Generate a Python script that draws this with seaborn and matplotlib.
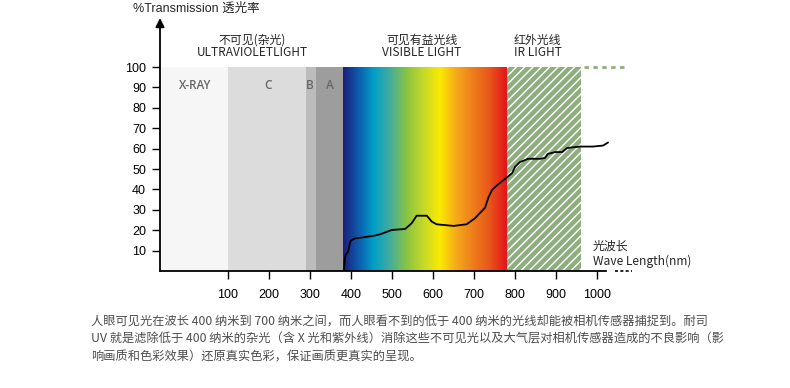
import numpy as np
import matplotlib
matplotlib.use("Agg")
import matplotlib.pyplot as plt
from matplotlib.colors import LinearSegmentedColormap
import seaborn as sns

# ---------------- data ----------------
wavelength = [383, 385, 387, 393, 397, 400, 410, 430, 454, 471, 499, 532, 548, 560,
              585, 597, 609, 650, 682, 702, 722, 727, 735, 744, 756, 778, 793, 800,
              812, 832, 861, 873, 880, 898, 915, 927, 959, 990, 1015, 1027]
transmission = [0.5, 6, 8, 9.5, 13.5, 15, 16, 16.5, 17.2, 18, 20.1, 20.6, 23.4, 27.1,
                27.1, 24.2, 22.9, 22.1, 22.9, 25.8, 30, 31, 36, 39.7, 42, 45.5, 48, 51,
                53.4, 55, 55, 55.4, 57.4, 58.3, 58.3, 60.3, 61, 61, 61.5, 63]

band_names = ["X-RAY", "C", "B", "A"]
band_start = [-66, 100, 290, 315]
band_end = [100, 290, 315, 380]
band_label_x = [20, 197, 300, 348]
band_colors = ["#f6f6f6", "#dcdcdc", "#bcbcbc", "#9d9d9d"]

visible_range = [380, 780]
spectrum_pos = [380, 422, 454, 495, 537, 576, 617, 658, 698, 739, 780]
spectrum_colors = ["#1b1f7e", "#0d63b2", "#009fc8", "#45ad9c", "#8cc43f", "#c6d82a",
                   "#fbe900", "#f5a81c", "#ee7d1b", "#e8561a", "#e3141c"]
ir_range = [780, 960]
ir_color = "#8fae7f"

xticks = [100, 200, 300, 400, 500, 600, 700, 800, 900, 1000]
yticks = [10, 20, 30, 40, 50, 60, 70, 80, 90, 100]

caption = ("人眼可见光在波长 400 纳米到 700 纳米之间，而人眼看不到的低于 400 纳米的光线却能被相机传感器捕捉到。耐司\n"
           "UV 就是滤除低于 400 纳米的杂光（含 X 光和紫外线）消除这些不可见光以及大气层对相机传感器造成的不良影响（影\n"
           "响画质和色彩效果）还原真实色彩，保证画质更真实的呈现。")

# ---------------- style ----------------
sns.set_style("white")
plt.rcParams['font.family'] = ['Liberation Sans', 'Noto Sans CJK SC', 'DejaVu Sans']
plt.rcParams['hatch.linewidth'] = 1.0

W, H = 790, 388
fig = plt.figure(figsize=(W / 100, H / 100), dpi=100)
X0, X1 = -65.9, 1104.9
Y0, Y1 = 0, 125.5
ax = fig.add_axes([160 / W, (H - 271) / H, 480 / W, 256 / H])
ax.set_xlim(X0, X1)
ax.set_ylim(Y0, Y1)
ax.patch.set_alpha(0)

# bands
ax.bar(band_start, [100] * 4, width=np.array(band_end) - np.array(band_start),
       align='edge', color=band_colors, linewidth=0, zorder=1)
for name, xc in zip(band_names, band_label_x):
    ax.text(xc, 91, name, ha='center', va='center', fontsize=8.5, fontweight='semibold',
            color='#666666', family=['Open Sans', 'DejaVu Sans'], zorder=3)

# visible spectrum gradient
cmap = LinearSegmentedColormap.from_list(
    "spec", [((p - spectrum_pos[0]) / (spectrum_pos[-1] - spectrum_pos[0]), c)
             for p, c in zip(spectrum_pos, spectrum_colors)])
grad = np.linspace(0, 1, 512)[None, :]
ax.imshow(grad, cmap=cmap, aspect='auto', extent=[visible_range[0], visible_range[1], 0, 100],
          interpolation='bilinear', zorder=1)

# IR hatched band
ax.bar([ir_range[0]], [100], width=ir_range[1] - ir_range[0], align='edge',
       color=ir_color, edgecolor='white', hatch='////', linewidth=0, zorder=1)
ax.plot([968, 1068], [100, 100], color=ir_color, lw=2, ls=(0, (1.6, 1.6)), zorder=1)

# curve
sns.lineplot(x=wavelength, y=transmission, color='black', lw=1.3, ax=ax, zorder=4)

ax.set_xlim(X0, X1)
ax.set_ylim(Y0, Y1)

# axes decoration
for s in ['top', 'right', 'left']:
    ax.spines[s].set_visible(False)
ax.spines['bottom'].set_bounds(X0, 1022)
ax.spines['bottom'].set_color('black')
ax.spines['bottom'].set_linewidth(1.3)
ax.plot([1044, 1085], [0, 0], color='black', lw=1.2, ls=(0, (1.8, 1.4)), clip_on=False)
ax.annotate('', xy=(X0, 124), xytext=(X0, 0),
            arrowprops=dict(arrowstyle='-|>', color='black', lw=1.3, mutation_scale=13,
                            shrinkA=0, shrinkB=0), annotation_clip=False)

ax.set_xticks(xticks)
ax.set_yticks(yticks)
ax.set_xticklabels([str(v) for v in xticks])
ax.set_yticklabels([str(v) for v in yticks])
ax.tick_params(axis='x', direction='out', length=6, width=1, pad=7, labelsize=9, bottom=True, colors='black')
ax.tick_params(axis='y', direction='out', length=6, width=1, pad=4, labelsize=9, left=True, colors='black')
ax.grid(False)
ax.set_xlabel('')
ax.set_ylabel('')


def fx(px):
    return px / W


def fy(py):
    return 1 - py / H


cjk = ['Noto Sans CJK SC', 'DejaVu Sans']
fig.text(fx(133), fy(9), "%Transmission 透光率", fontsize=9, ha='left', va='center',
         family=['Liberation Sans', 'Noto Sans CJK SC'])
fig.text(fx(252), fy(40), "不可见(杂光)", fontsize=8.6, ha='center', va='center', family=cjk)
fig.text(fx(252), fy(53), "ULTRAVIOLETLIGHT", fontsize=8.6, ha='center', va='center', family=cjk)
fig.text(fx(422), fy(40), "可见有益光线", fontsize=8.6, ha='center', va='center', family=cjk)
fig.text(fx(422), fy(53), "VISIBLE LIGHT", fontsize=8.6, ha='center', va='center', family=cjk)
fig.text(fx(514), fy(40), "红外光线", fontsize=8.6, ha='left', va='center', family=cjk)
fig.text(fx(514), fy(53), "IR LIGHT", fontsize=8.6, ha='left', va='center', family=cjk)
fig.text(fx(593), fy(246), "光波长", fontsize=8.6, ha='left', va='center', family=cjk)
fig.text(fx(593), fy(261), "Wave Length(nm)", fontsize=8.6, ha='left', va='center', family=cjk)

fig.text(fx(91), fy(315), caption, fontsize=8.8, ha='left', va='top', color='#4d4d4d',
         family=cjk, linespacing=1.5)

fig.savefig("out.png", dpi=100)
